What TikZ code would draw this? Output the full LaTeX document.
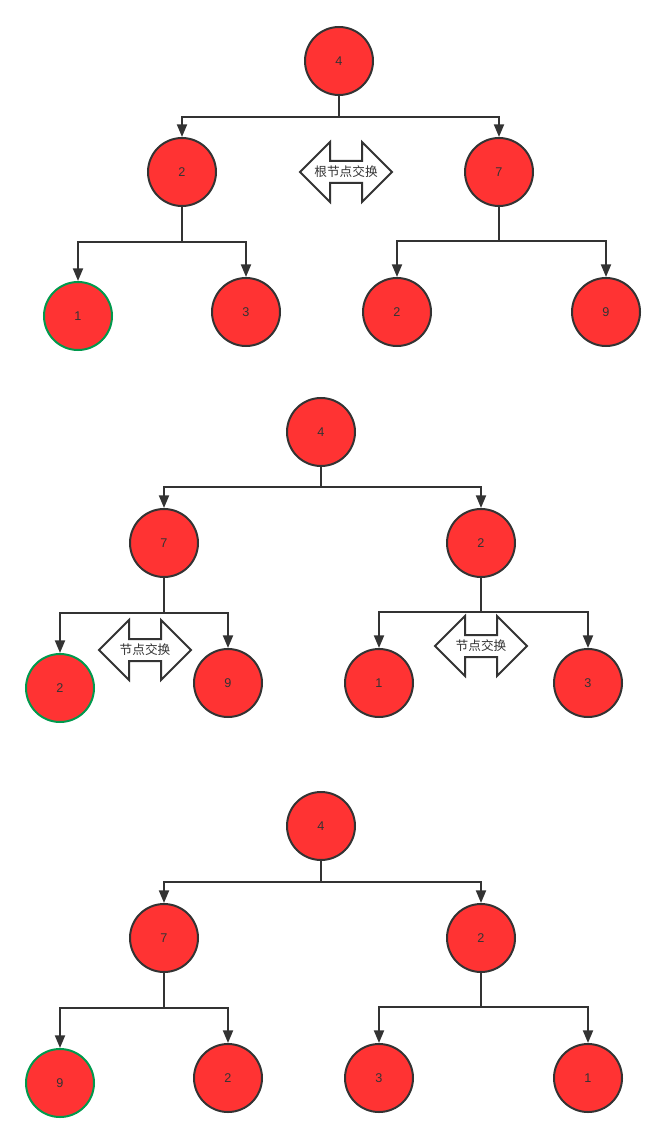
\documentclass[tikz,border=0pt]{standalone}
\usepackage{fontspec}
\setmainfont{Liberation Sans}
\newfontfamily\cjk{Noto Sans CJK SC}
\usetikzlibrary{arrows.meta}
\definecolor{nodered}{HTML}{FF3333}
\definecolor{stroke}{HTML}{333333}
\definecolor{greenline}{HTML}{00994D}
\tikzset{
  tnode/.style={circle, draw=stroke, fill=nodered, line width=1.5pt, minimum size=51pt, inner sep=0pt, text=stroke, font=\fontsize{9.5}{10}\selectfont},
  gnode/.style={tnode, draw=greenline},
  conn/.style={draw=stroke, line width=1.5pt, -{Triangle[length=9.5pt,width=7.5pt]}},
  swaplabel/.style={inner sep=0pt, text=stroke, font=\cjk\fontsize{9.5}{10}\selectfont},
  swapshape/.style={draw=stroke, line width=1.5pt, fill=white, line join=miter}
}
\newcommand{\swaparrow}[4]{%
  \draw[swapshape] (#2-46,#3) -- (#2-16,#3-30) -- (#2-16,#3-11) -- (#2+16,#3-11) -- (#2+16,#3-30) -- (#2+46,#3) -- (#2+16,#3+30) -- (#2+16,#3+11) -- (#2-16,#3+11) -- (#2-16,#3+30) -- cycle;
  \node[swaplabel] (#1) at (#2,#3) {#4};%
}
\begin{document}
\begin{tikzpicture}[x=0.75pt,y=-0.75pt]
\useasboundingbox (0,0) rectangle (666,1144);
% ---------- tree 1 ----------
\node[tnode] (a4) at (339,61) {4};
\node[tnode] (a2) at (182,172) {2};
\node[tnode] (a7) at (499,172) {7};
\node[gnode] (a1) at (78,316) {1};
\node[tnode] (a3) at (246,312) {3};
\node[tnode] (a2b) at (397,312) {2};
\node[tnode] (a9) at (606,312) {9};
\draw[conn] (a4.south) -- ++(0,21) -| (a2.north);
\draw[conn] (a4.south) -- ++(0,21) -| (a7.north);
\draw[conn] (a2.south) -- ++(0,35) -| (a1.north);
\draw[conn] (a2.south) -- ++(0,35) -| (a3.north);
\draw[conn] (a7.south) -- ++(0,34) -| (a2b.north);
\draw[conn] (a7.south) -- ++(0,34) -| (a9.north);
\swaparrow{s1}{346}{172}{根节点交换}
% ---------- tree 2 ----------
\node[tnode] (b4) at (321,432) {4};
\node[tnode] (b7) at (164,543) {7};
\node[tnode] (b2) at (481,543) {2};
\node[gnode] (b2b) at (60,688) {2};
\node[tnode] (b9) at (228,683) {9};
\node[tnode] (b1) at (379,683) {1};
\node[tnode] (b3) at (588,683) {3};
\draw[conn] (b4.south) -- ++(0,20) -| (b7.north);
\draw[conn] (b4.south) -- ++(0,20) -| (b2.north);
\draw[conn] (b7.south) -- ++(0,35) -| (b2b.north);
\draw[conn] (b7.south) -- ++(0,35) -| (b9.north);
\draw[conn] (b2.south) -- ++(0,34) -| (b1.north);
\draw[conn] (b2.south) -- ++(0,34) -| (b3.north);
\swaparrow{s2}{145}{650}{节点交换}
\swaparrow{s3}{481}{646}{节点交换}
% ---------- tree 3 ----------
\node[tnode] (c4) at (321,826) {4};
\node[tnode] (c7) at (164,938) {7};
\node[tnode] (c2) at (481,938) {2};
\node[gnode] (c9) at (60,1083) {9};
\node[tnode] (c2b) at (228,1078) {2};
\node[tnode] (c3) at (379,1078) {3};
\node[tnode] (c1) at (588,1078) {1};
\draw[conn] (c4.south) -- ++(0,21) -| (c7.north);
\draw[conn] (c4.south) -- ++(0,21) -| (c2.north);
\draw[conn] (c7.south) -- ++(0,35) -| (c9.north);
\draw[conn] (c7.south) -- ++(0,35) -| (c2b.north);
\draw[conn] (c2.south) -- ++(0,34) -| (c3.north);
\draw[conn] (c2.south) -- ++(0,34) -| (c1.north);
\end{tikzpicture}
\end{document}
